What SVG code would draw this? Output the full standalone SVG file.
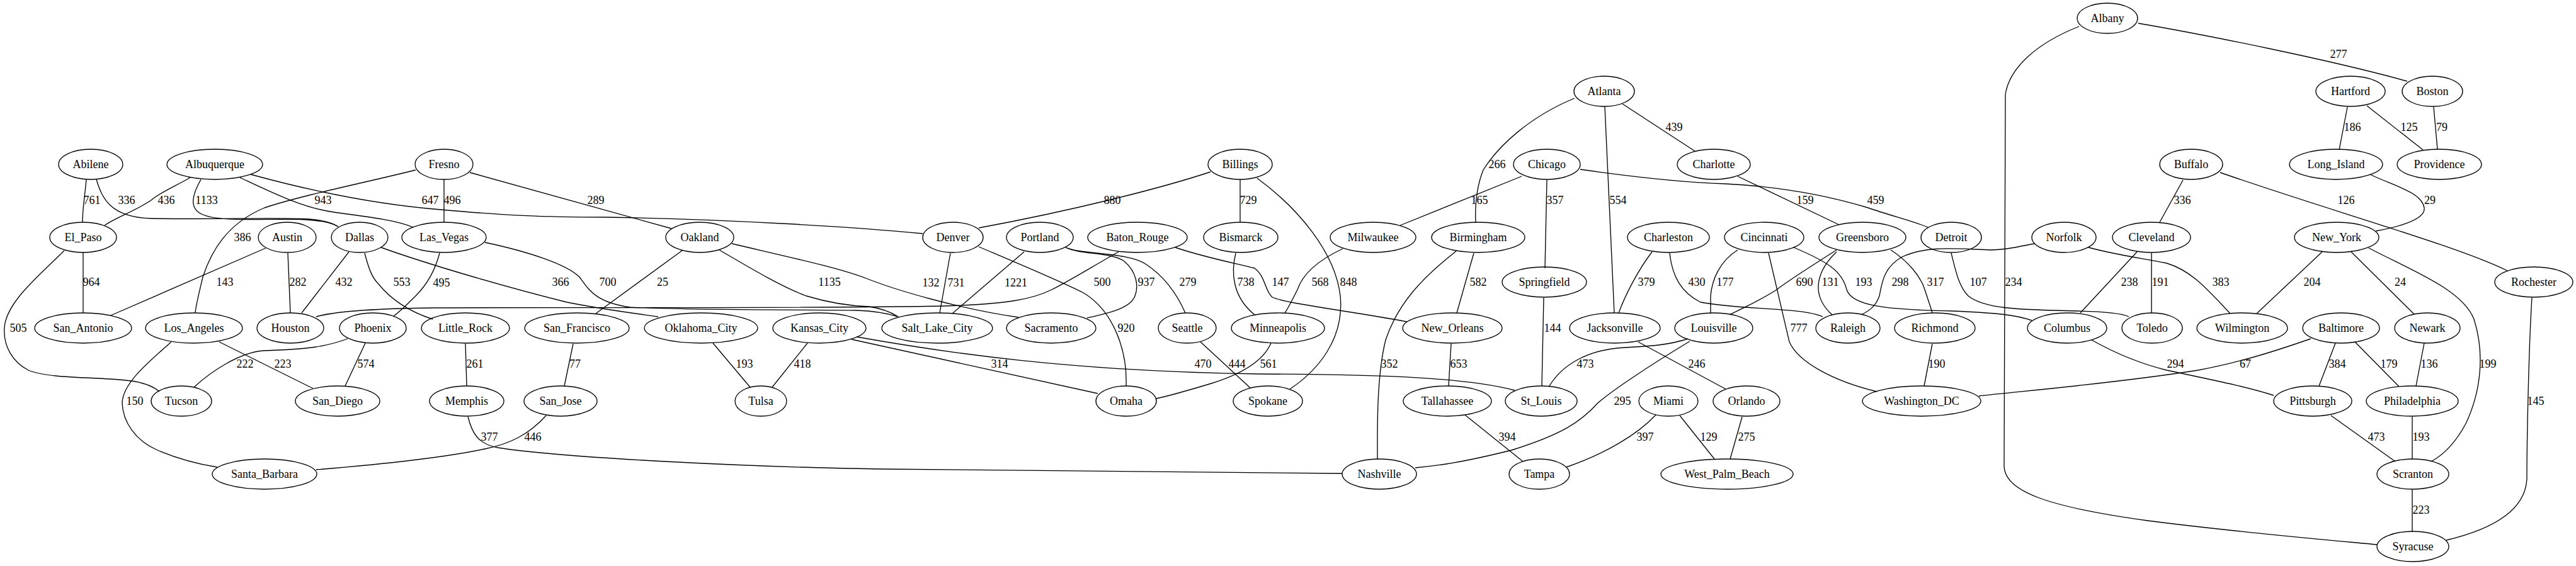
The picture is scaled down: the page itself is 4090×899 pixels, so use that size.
<svg xmlns="http://www.w3.org/2000/svg" width="4090" height="899" viewBox="0 0 4090 899">
<style>
.n ellipse{fill:none;stroke:#000;stroke-width:1.33}
text{font-family:"Liberation Serif","Times New Roman",serif;font-size:18px;text-anchor:middle;fill:#000}
.e path{fill:none;stroke:#000;stroke-width:1.33}
</style>
<rect width="4090" height="899" fill="#fff"/>
<g id="edges" class="e">
<g><path d="M137,285 C135,310 131,330 131,353"/><text x="146" y="324">761</text></g>
<g><path d="M153,285 C162,315 175,345 240,347 C330,349 440,345 490,348 C515,350 528,354 537,360"/><text x="201" y="324">336</text></g>
<g><path d="M302,282 C280,295 255,305 240,318 C215,335 185,345 166,358"/><text x="264" y="324">436</text></g>
<g><path d="M319,285 C305,310 300,330 320,340 C345,352 400,348 470,348 C510,350 525,353 537,360"/><text x="328" y="324">1133</text></g>
<g><path d="M381,282 C430,305 480,330 530,337 C590,345 630,350 656,361"/><text x="513" y="324">943</text></g>
<g><path d="M398,277 C500,305 600,325 700,333 C800,342 860,345 960,345 C1150,348 1350,360 1465,371"/><text x="683" y="324">647</text></g>
<g><path d="M705,285 L705,353"/><text x="718" y="324">496</text></g>
<g><path d="M660,270 C580,290 480,310 420,330 C360,355 335,400 322,440 C315,470 311,485 310,497"/><text x="385" y="383">386</text></g>
<g><path d="M746,274 L1066,363"/><text x="946" y="324">289</text></g>
<g><path d="M422,394 L176,501"/><text x="357" y="454">143</text></g>
<g><path d="M457,402 L461,497"/><text x="473" y="454">282</text></g>
<g><path d="M132,401 L132,497"/><text x="145" y="454">964</text></g>
<g><path d="M102,398 C60,440 10,480 7,520 C5,550 20,575 45,588 C80,603 170,598 215,606 C235,610 245,615 253,622"/><text x="29" y="527">505</text></g>
<g><path d="M554,400 L479,497"/><text x="546" y="454">432</text></g>
<g><path d="M579,402 C585,425 590,440 600,450 C620,475 650,495 687,507"/><text x="638" y="454">553</text></g>
<g><path d="M605,393 C680,420 800,455 900,480 C960,492 1010,498 1045,503"/><text x="890" y="454">366</text></g>
<g><path d="M698,402 C692,425 680,450 660,470 C645,485 635,495 625,502"/><text x="701" y="455">495</text></g>
<g><path d="M770,385 C840,400 900,420 920,440 C935,460 945,480 1000,488 C1100,493 1300,492 1360,493 C1390,494 1410,498 1426,503"/><text x="965" y="454">700</text></g>
<g><path d="M1083,398 L946,498"/><text x="1052" y="454">25</text></g>
<g><path d="M1142,397 C1190,425 1240,455 1280,470 C1320,482 1350,486 1380,487 C1400,490 1415,496 1426,503"/><text x="1317" y="454">1135</text></g>
<g><path d="M1162,387 C1260,410 1330,425 1375,442 C1420,460 1520,490 1617,504"/><text x="1478" y="455">132</text></g>
<g><path d="M1922,273 C1840,300 1700,335 1554,362"/><text x="1766" y="324">880</text></g>
<g><path d="M1969,285 L1969,353"/><text x="1982" y="324">729</text></g>
<g><path d="M1996,283 C2060,330 2120,400 2128,470 C2135,540 2090,590 2048,618"/><text x="2141" y="454">848</text></g>
<g><path d="M1509,402 L1492,497"/><text x="1518" y="455">731</text></g>
<g><path d="M1554,392 C1620,420 1680,445 1720,465 C1770,495 1790,560 1788,613"/><text x="1788" y="527">920</text></g>
<g><path d="M1626,400 L1512,498"/><text x="1613" y="455">1221</text></g>
<g><path d="M1692,393 C1715,405 1765,400 1785,415 C1805,432 1808,455 1802,470 C1795,490 1760,497 1726,505"/><text x="1820" y="454">937</text></g>
<g><path d="M1692,393 C1720,405 1790,400 1820,420 C1850,440 1870,470 1882,497"/><text x="1886" y="454">279</text></g>
<g><path d="M1776,400 C1740,420 1700,445 1670,460 C1640,475 1600,483 1500,486 C1300,490 800,488 690,489 C600,490 530,495 502,503"/><text x="1750" y="454">500</text></g>
<g><path d="M1866,393 C1910,408 1960,418 1992,426 C2010,440 2008,462 2020,472 C2040,482 2150,495 2234,511"/><text x="2033" y="454">147</text></g>
<g><path d="M1962,402 C1955,430 1955,470 1992,500"/><text x="1978" y="454">738</text></g>
<g><path d="M2500,156 C2430,185 2380,230 2355,270 C2343,300 2342,330 2343,353"/><text x="2377" y="267">266</text></g>
<g><path d="M2576,165 L2691,240"/><text x="2658" y="208">439</text></g>
<g><path d="M2548,169 L2563,497"/><text x="2569" y="324">554</text></g>
<g><path d="M2416,280 L2223,358"/><text x="2349" y="324">165</text></g>
<g><path d="M2456,286 L2453,426"/><text x="2469" y="324">357</text></g>
<g><path d="M2509,269 C2600,282 2680,290 2740,292 C2820,296 2900,310 2966,330 C3000,342 3040,352 3061,361"/><text x="2978" y="324">459</text></g>
<g><path d="M2132,395 C2100,410 2070,430 2060,460 C2050,480 2045,490 2040,497"/><text x="2096" y="454">568</text></g>
<g><path d="M2340,402 L2313,497"/><text x="2347" y="454">582</text></g>
<g><path d="M2313,398 C2260,440 2220,480 2200,540 C2185,600 2187,690 2187,730"/><text x="2206" y="584">352</text></g>
<g><path d="M2623,400 C2600,430 2580,470 2570,497"/><text x="2614" y="454">379</text></g>
<g><path d="M2651,402 C2655,440 2670,465 2700,480 C2760,492 2860,488 2894,503"/><text x="2694" y="454">430</text></g>
<g><path d="M2759,280 L2920,357"/><text x="2866" y="324">159</text></g>
<g><path d="M2759,397 C2730,415 2718,445 2716,470 L2716,497"/><text x="2739" y="454">177</text></g>
<g><path d="M2808,402 L2841,543 C2855,575 2910,605 2980,622"/><text x="2856" y="527">777</text></g>
<g><path d="M2848,393 C2900,415 2925,430 2932,460 C2940,485 2990,492 3100,494 C3170,497 3200,500 3226,509"/><text x="2959" y="454">193</text></g>
<g><path d="M2916,397 C2880,420 2840,445 2821,460 C2790,480 2765,490 2746,500"/><text x="2865" y="454">690</text></g>
<g><path d="M2916,400 C2895,420 2886,440 2887,460 C2889,480 2900,492 2909,500"/><text x="2906" y="454">131</text></g>
<g><path d="M3002,397 C3030,415 3050,440 3056,460 C3062,478 3066,490 3068,497"/><text x="3073" y="454">317</text></g>
<g><path d="M3230,387 C3200,393 3180,397 3160,397 C3100,395 3060,390 3020,408 C2990,425 2988,450 2984,470 C2978,488 2965,495 2955,500"/><text x="3017" y="454">298</text></g>
<g><path d="M3316,393 C3360,405 3400,410 3440,418 C3480,430 3505,460 3541,498"/><text x="3526" y="454">383</text></g>
<g><path d="M3098,402 C3105,430 3110,455 3125,470 C3150,490 3200,492 3300,494 C3350,495 3370,498 3380,503"/><text x="3141" y="454">107</text></g>
<g><path d="M3301,42 C3230,70 3190,110 3184,150 L3182,740 C3182,780 3250,805 3410,827 C3550,845 3700,858 3774,865"/><text x="3197" y="454">234</text></g>
<g><path d="M3395,37 C3500,55 3700,95 3822,129"/><text x="3713" y="92">277</text></g>
<g><path d="M3393,400 L3303,497"/><text x="3381" y="454">238</text></g>
<g><path d="M3416,402 L3416,497"/><text x="3430" y="454">191</text></g>
<g><path d="M3466,286 L3429,353"/><text x="3465" y="324">336</text></g>
<g><path d="M3525,274 C3700,335 3900,390 3981,430"/><text x="3725" y="324">126</text></g>
<g><path d="M3727,170 L3714,238"/><text x="3735" y="208">186</text></g>
<g><path d="M3758,168 L3847,238"/><text x="3825" y="208">125</text></g>
<g><path d="M3864,170 L3870,237"/><text x="3877" y="208">79</text></g>
<g><path d="M3763,277 C3800,295 3845,305 3849,330 C3852,350 3800,362 3772,367"/><text x="3858" y="324">29</text></g>
<g><path d="M3687,400 L3583,498"/><text x="3671" y="454">204</text></g>
<g><path d="M3733,400 L3833,499"/><text x="3811" y="454">24</text></g>
<g><path d="M3761,394 C3830,430 3910,460 3928,507 C3945,560 3940,620 3915,673 C3895,710 3875,725 3860,733"/><text x="3950" y="584">199</text></g>
<g><path d="M552,538 C520,550 490,555 418,557 C380,560 335,590 308,615"/><text x="389" y="584">222</text></g>
<g><path d="M348,543 L497,617"/><text x="449" y="584">223</text></g>
<g><path d="M580,545 L548,613"/><text x="581" y="584">574</text></g>
<g><path d="M272,543 C230,580 195,610 194,640 C195,670 215,700 250,715 C290,732 320,738 345,742"/><text x="214" y="643">150</text></g>
<g><path d="M739,546 L741,613"/><text x="754" y="584">261</text></g>
<g><path d="M910,546 L896,613"/><text x="913" y="584">77</text></g>
<g><path d="M1132,545 L1191,615"/><text x="1182" y="584">193</text></g>
<g><path d="M1282,545 L1226,615"/><text x="1274" y="584">418</text></g>
<g><path d="M743,662 C750,690 760,705 790,711 C900,728 1200,742 1400,745 C1700,750 2000,751 2131,752"/><text x="777" y="700">377</text></g>
<g><path d="M867,660 C840,690 810,705 770,713 C700,728 600,738 502,746"/><text x="846" y="700">446</text></g>
<g><path d="M1352,539 L1743,625"/><text x="1587" y="584">314</text></g>
<g><path d="M1360,535 C1500,560 1700,590 2000,594 C2200,595 2330,600 2405,620"/><text x="1910" y="584">470</text></g>
<g><path d="M1906,543 L1985,616"/><text x="1964" y="584">444</text></g>
<g><path d="M2018,545 C2005,575 1970,595 1920,610 C1880,622 1860,628 1836,633"/><text x="2014" y="584">561</text></g>
<g><path d="M2304,546 L2300,613"/><text x="2316" y="584">653</text></g>
<g><path d="M2451,473 L2448,613"/><text x="2465" y="527">144</text></g>
<g><path d="M2680,538 C2650,548 2620,550 2580,552 C2520,555 2480,580 2460,613"/><text x="2517" y="584">473</text></g>
<g><path d="M2601,543 L2740,618"/><text x="2694" y="584">246</text></g>
<g><path d="M2326,659 L2418,733"/><text x="2393" y="700">394</text></g>
<g><path d="M2683,542 C2620,580 2560,620 2537,640 C2510,670 2480,690 2400,715 C2320,735 2280,740 2247,743"/><text x="2576" y="643">295</text></g>
<g><path d="M2629,659 C2600,690 2550,720 2487,742"/><text x="2612" y="700">397</text></g>
<g><path d="M2667,660 L2722,729"/><text x="2713" y="700">129</text></g>
<g><path d="M3068,546 L3055,613"/><text x="3075" y="584">190</text></g>
<g><path d="M2766,662 L2747,729"/><text x="2773" y="700">275</text></g>
<g><path d="M3321,540 C3360,562 3400,578 3440,588 C3520,605 3570,615 3610,628"/><text x="3454" y="584">294</text></g>
<g><path d="M3669,538 C3620,555 3560,575 3490,588 C3350,610 3200,622 3142,629"/><text x="3565" y="584">67</text></g>
<g><path d="M3708,545 L3682,613"/><text x="3711" y="584">384</text></g>
<g><path d="M3739,543 L3809,614"/><text x="3793" y="584">179</text></g>
<g><path d="M3849,545 L3836,613"/><text x="3857" y="584">136</text></g>
<g><path d="M3701,660 L3803,733"/><text x="3773" y="700">473</text></g>
<g><path d="M3830,662 L3830,730"/><text x="3844" y="700">193</text></g>
<g><path d="M3830,777 L3830,845"/><text x="3844" y="816">223</text></g>
<g><path d="M4020,473 C4015,550 4012,700 4012,760 C4010,810 3960,840 3884,858"/><text x="4026" y="643">145</text></g>
</g>
<g id="Albany" class="n"><ellipse cx="3346" cy="29" rx="48" ry="24"/><text x="3346" y="35">Albany</text></g>
<g id="Atlanta" class="n"><ellipse cx="2547" cy="145" rx="48" ry="24"/><text x="2547" y="151">Atlanta</text></g>
<g id="Hartford" class="n"><ellipse cx="3732" cy="145" rx="55" ry="24"/><text x="3732" y="151">Hartford</text></g>
<g id="Boston" class="n"><ellipse cx="3862" cy="145" rx="48" ry="24"/><text x="3862" y="151">Boston</text></g>
<g id="Abilene" class="n"><ellipse cx="144" cy="261" rx="51" ry="24"/><text x="144" y="267">Abilene</text></g>
<g id="Albuquerque" class="n"><ellipse cx="341" cy="261" rx="76" ry="24"/><text x="341" y="267">Albuquerque</text></g>
<g id="Fresno" class="n"><ellipse cx="705" cy="261" rx="46" ry="24"/><text x="705" y="267">Fresno</text></g>
<g id="Billings" class="n"><ellipse cx="1969" cy="261" rx="51" ry="24"/><text x="1969" y="267">Billings</text></g>
<g id="Chicago" class="n"><ellipse cx="2456" cy="261" rx="53" ry="24"/><text x="2456" y="267">Chicago</text></g>
<g id="Charlotte" class="n"><ellipse cx="2721" cy="261" rx="58" ry="24"/><text x="2721" y="267">Charlotte</text></g>
<g id="Buffalo" class="n"><ellipse cx="3479" cy="261" rx="50" ry="24"/><text x="3479" y="267">Buffalo</text></g>
<g id="Long_Island" class="n"><ellipse cx="3709" cy="261" rx="74" ry="24"/><text x="3709" y="267">Long_Island</text></g>
<g id="Providence" class="n"><ellipse cx="3873" cy="261" rx="67" ry="24"/><text x="3873" y="267">Providence</text></g>
<g id="El_Paso" class="n"><ellipse cx="132" cy="377" rx="53" ry="24"/><text x="132" y="383">El_Paso</text></g>
<g id="Austin" class="n"><ellipse cx="456" cy="377" rx="46" ry="24"/><text x="456" y="383">Austin</text></g>
<g id="Dallas" class="n"><ellipse cx="571" cy="377" rx="45" ry="24"/><text x="571" y="383">Dallas</text></g>
<g id="Las_Vegas" class="n"><ellipse cx="705" cy="377" rx="67" ry="24"/><text x="705" y="383">Las_Vegas</text></g>
<g id="Oakland" class="n"><ellipse cx="1111" cy="377" rx="54" ry="24"/><text x="1111" y="383">Oakland</text></g>
<g id="Denver" class="n"><ellipse cx="1513" cy="377" rx="48" ry="24"/><text x="1513" y="383">Denver</text></g>
<g id="Portland" class="n"><ellipse cx="1651" cy="377" rx="53" ry="24"/><text x="1651" y="383">Portland</text></g>
<g id="Baton_Rouge" class="n"><ellipse cx="1806" cy="377" rx="79" ry="24"/><text x="1806" y="383">Baton_Rouge</text></g>
<g id="Bismarck" class="n"><ellipse cx="1970" cy="377" rx="59" ry="24"/><text x="1970" y="383">Bismarck</text></g>
<g id="Milwaukee" class="n"><ellipse cx="2180" cy="377" rx="68" ry="24"/><text x="2180" y="383">Milwaukee</text></g>
<g id="Birmingham" class="n"><ellipse cx="2347" cy="377" rx="74" ry="24"/><text x="2347" y="383">Birmingham</text></g>
<g id="Charleston" class="n"><ellipse cx="2649" cy="377" rx="65" ry="24"/><text x="2649" y="383">Charleston</text></g>
<g id="Cincinnati" class="n"><ellipse cx="2801" cy="377" rx="63" ry="24"/><text x="2801" y="383">Cincinnati</text></g>
<g id="Greensboro" class="n"><ellipse cx="2957" cy="377" rx="69" ry="24"/><text x="2957" y="383">Greensboro</text></g>
<g id="Detroit" class="n"><ellipse cx="3098" cy="377" rx="48" ry="24"/><text x="3098" y="383">Detroit</text></g>
<g id="Norfolk" class="n"><ellipse cx="3277" cy="377" rx="51" ry="24"/><text x="3277" y="383">Norfolk</text></g>
<g id="Cleveland" class="n"><ellipse cx="3416" cy="377" rx="62" ry="24"/><text x="3416" y="383">Cleveland</text></g>
<g id="New_York" class="n"><ellipse cx="3710" cy="377" rx="67" ry="24"/><text x="3710" y="383">New_York</text></g>
<g id="Springfield" class="n"><ellipse cx="2452" cy="448" rx="67" ry="24"/><text x="2452" y="454">Springfield</text></g>
<g id="Rochester" class="n"><ellipse cx="4023" cy="448" rx="62" ry="24"/><text x="4023" y="454">Rochester</text></g>
<g id="San_Antonio" class="n"><ellipse cx="132" cy="521" rx="77" ry="24"/><text x="132" y="527">San_Antonio</text></g>
<g id="Los_Angeles" class="n"><ellipse cx="308" cy="521" rx="77" ry="24"/><text x="308" y="527">Los_Angeles</text></g>
<g id="Houston" class="n"><ellipse cx="461" cy="521" rx="53" ry="24"/><text x="461" y="527">Houston</text></g>
<g id="Phoenix" class="n"><ellipse cx="592" cy="521" rx="53" ry="24"/><text x="592" y="527">Phoenix</text></g>
<g id="Little_Rock" class="n"><ellipse cx="739" cy="521" rx="70" ry="24"/><text x="739" y="527">Little_Rock</text></g>
<g id="San_Francisco" class="n"><ellipse cx="916" cy="521" rx="83" ry="24"/><text x="916" y="527">San_Francisco</text></g>
<g id="Oklahoma_City" class="n"><ellipse cx="1113" cy="521" rx="90" ry="24"/><text x="1113" y="527">Oklahoma_City</text></g>
<g id="Kansas_City" class="n"><ellipse cx="1301" cy="521" rx="74" ry="24"/><text x="1301" y="527">Kansas_City</text></g>
<g id="Salt_Lake_City" class="n"><ellipse cx="1488" cy="521" rx="88" ry="24"/><text x="1488" y="527">Salt_Lake_City</text></g>
<g id="Sacramento" class="n"><ellipse cx="1669" cy="521" rx="71" ry="24"/><text x="1669" y="527">Sacramento</text></g>
<g id="Seattle" class="n"><ellipse cx="1885" cy="521" rx="46" ry="24"/><text x="1885" y="527">Seattle</text></g>
<g id="Minneapolis" class="n"><ellipse cx="2029" cy="521" rx="74" ry="24"/><text x="2029" y="527">Minneapolis</text></g>
<g id="New_Orleans" class="n"><ellipse cx="2306" cy="521" rx="79" ry="24"/><text x="2306" y="527">New_Orleans</text></g>
<g id="Jacksonville" class="n"><ellipse cx="2564" cy="521" rx="72" ry="24"/><text x="2564" y="527">Jacksonville</text></g>
<g id="Louisville" class="n"><ellipse cx="2721" cy="521" rx="62" ry="24"/><text x="2721" y="527">Louisville</text></g>
<g id="Raleigh" class="n"><ellipse cx="2934" cy="521" rx="51" ry="24"/><text x="2934" y="527">Raleigh</text></g>
<g id="Richmond" class="n"><ellipse cx="3072" cy="521" rx="64" ry="24"/><text x="3072" y="527">Richmond</text></g>
<g id="Columbus" class="n"><ellipse cx="3282" cy="521" rx="63" ry="24"/><text x="3282" y="527">Columbus</text></g>
<g id="Toledo" class="n"><ellipse cx="3417" cy="521" rx="48" ry="24"/><text x="3417" y="527">Toledo</text></g>
<g id="Wilmington" class="n"><ellipse cx="3560" cy="521" rx="72" ry="24"/><text x="3560" y="527">Wilmington</text></g>
<g id="Baltimore" class="n"><ellipse cx="3717" cy="521" rx="61" ry="24"/><text x="3717" y="527">Baltimore</text></g>
<g id="Newark" class="n"><ellipse cx="3854" cy="521" rx="52" ry="24"/><text x="3854" y="527">Newark</text></g>
<g id="Tucson" class="n"><ellipse cx="288" cy="637" rx="48" ry="24"/><text x="288" y="643">Tucson</text></g>
<g id="San_Diego" class="n"><ellipse cx="536" cy="637" rx="67" ry="24"/><text x="536" y="643">San_Diego</text></g>
<g id="Memphis" class="n"><ellipse cx="741" cy="637" rx="59" ry="24"/><text x="741" y="643">Memphis</text></g>
<g id="San_Jose" class="n"><ellipse cx="890" cy="637" rx="58" ry="24"/><text x="890" y="643">San_Jose</text></g>
<g id="Tulsa" class="n"><ellipse cx="1208" cy="637" rx="41" ry="24"/><text x="1208" y="643">Tulsa</text></g>
<g id="Omaha" class="n"><ellipse cx="1788" cy="637" rx="48" ry="24"/><text x="1788" y="643">Omaha</text></g>
<g id="Spokane" class="n"><ellipse cx="2013" cy="637" rx="55" ry="24"/><text x="2013" y="643">Spokane</text></g>
<g id="Tallahassee" class="n"><ellipse cx="2298" cy="637" rx="70" ry="24"/><text x="2298" y="643">Tallahassee</text></g>
<g id="St_Louis" class="n"><ellipse cx="2447" cy="637" rx="57" ry="24"/><text x="2447" y="643">St_Louis</text></g>
<g id="Miami" class="n"><ellipse cx="2649" cy="637" rx="47" ry="24"/><text x="2649" y="643">Miami</text></g>
<g id="Orlando" class="n"><ellipse cx="2773" cy="637" rx="53" ry="24"/><text x="2773" y="643">Orlando</text></g>
<g id="Washington_DC" class="n"><ellipse cx="3051" cy="637" rx="94" ry="24"/><text x="3051" y="643">Washington_DC</text></g>
<g id="Pittsburgh" class="n"><ellipse cx="3672" cy="637" rx="62" ry="24"/><text x="3672" y="643">Pittsburgh</text></g>
<g id="Philadelphia" class="n"><ellipse cx="3830" cy="637" rx="73" ry="24"/><text x="3830" y="643">Philadelphia</text></g>
<g id="Santa_Barbara" class="n"><ellipse cx="420" cy="753" rx="83" ry="24"/><text x="420" y="759">Santa_Barbara</text></g>
<g id="Nashville" class="n"><ellipse cx="2190" cy="753" rx="59" ry="24"/><text x="2190" y="759">Nashville</text></g>
<g id="Tampa" class="n"><ellipse cx="2444" cy="753" rx="48" ry="24"/><text x="2444" y="759">Tampa</text></g>
<g id="West_Palm_Beach" class="n"><ellipse cx="2742" cy="753" rx="105" ry="24"/><text x="2742" y="759">West_Palm_Beach</text></g>
<g id="Scranton" class="n"><ellipse cx="3831" cy="753" rx="57" ry="24"/><text x="3831" y="759">Scranton</text></g>
<g id="Syracuse" class="n"><ellipse cx="3831" cy="868" rx="57" ry="24"/><text x="3831" y="874">Syracuse</text></g>
</svg>
